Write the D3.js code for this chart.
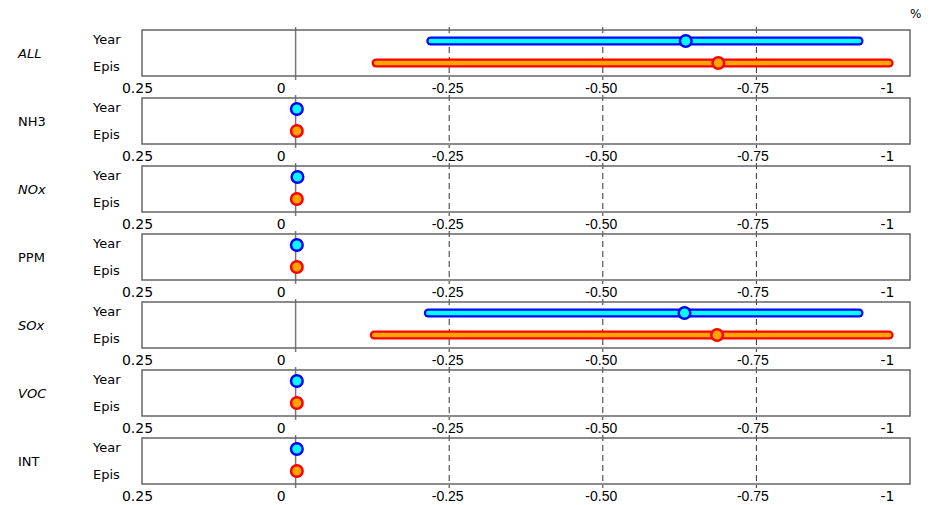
<!DOCTYPE html>
<html>
<head>
<meta charset="utf-8">
<script src="https://cdn.jsdelivr.net/npm/d3@7"></script>
<style>
  body { margin:0; background:#fff; }
  svg { display:block; }
</style>
</head>
<body>
<div id="chart"></div>
<script>
// categories (one panel each) and the two rows inside a panel
const categories = ["ALL", "NH3", "NOx", "PPM", "SOx", "VOC", "INT"];
const rows = ["Year", "Epis"];

// Year series: mean + range (min/max)
const yearMean = [-0.635, -0.002, -0.003, -0.002, -0.633, -0.002, -0.002];
const yearLow  = [-0.220, -0.002, -0.003, -0.002, -0.216, -0.002, -0.002];
const yearHigh = [-0.917, -0.002, -0.003, -0.002, -0.917, -0.002, -0.002];

// Epis series
const episMean = [-0.688, -0.002, -0.002, -0.002, -0.686, -0.002, -0.002];
const episLow  = [-0.131, -0.002, -0.002, -0.002, -0.128, -0.002, -0.002];
const episHigh = [-0.966, -0.002, -0.002, -0.002, -0.966, -0.002, -0.002];

// axis
const tickValues = [0.25, 0, -0.25, -0.5, -0.75, -1];
const tickLabels = ["0.25", "0", "-0.25", "-0.50", "-0.75", "-1"];
const gridValues = [-0.25, -0.5, -0.75];

const width = 933, height = 505;
const panelTop = 30, panelStep = 68, panelH = 46;
const labelFont = "'Comic Sans MS', 'DejaVu Sans', sans-serif";
const tickFont = "'Liberation Sans', Arial, sans-serif";

const colors = {
  Year: { outer: "#0000ff", inner: "#00ffff" },
  Epis: { outer: "#ff0000", inner: "#ffa500" }
};

const svg = d3.select("#chart").append("svg")
  .attr("width", width)
  .attr("height", height);

const x = d3.scaleLinear().domain([0.25, -1]).range([142, 910]);
const yPanel = d3.scaleOrdinal()
  .domain(categories)
  .range(categories.map((d, i) => panelTop + i * panelStep));
const yRow = d3.scalePoint().domain(rows).range([11, 33]);

// shift of each tick label relative to its tick (the original ones are not centred)
const labelShift = [-5, -15, -2, -2, -4, -23];
const comicTicks = new Set(["0.25", "0", "-1"]);

// % unit
svg.append("text")
  .attr("x", 910).attr("y", 18)
  .attr("fill", "#000")
  .style("font-family", labelFont)
  .style("font-size", "12px")
  .text("%");

const data = categories.map((c, i) => ({
  key: c,
  Year: { mean: yearMean[i], low: yearLow[i], high: yearHigh[i] },
  Epis: { mean: episMean[i], low: episLow[i], high: episHigh[i] }
}));

const panels = svg.selectAll(".panel")
  .data(data)
  .enter().append("g")
  .attr("class", "panel")
  .attr("transform", d => `translate(0,${yPanel(d.key)})`);

// category label
panels.append("text")
  .attr("x", 18).attr("y", panelH / 2 + 5)
  .style("font-family", labelFont)
  .style("font-size", "13px")
  .style("font-style", (d, i) => (i === 0 || i === 2 || i === 4 || i === 5) ? "italic" : "normal")
  .text(d => d.key);

// row labels
panels.append("text")
  .attr("x", 93).attr("y", 14)
  .style("font-family", labelFont)
  .style("font-size", "13px")
  .text("Year");
panels.append("text")
  .attr("x", 93).attr("y", 41)
  .style("font-family", labelFont)
  .style("font-size", "13px")
  .text("Epis");

// grid (dashed) lines, pass a little outside the frame
panels.selectAll(".grid")
  .data(gridValues)
  .enter().append("line")
  .attr("class", "grid")
  .attr("x1", d => x(d)).attr("x2", d => x(d))
  .attr("y1", -3).attr("y2", panelH + 4)
  .style("stroke", "#333")
  .style("stroke-width", 1)
  .style("stroke-dasharray", "6,4");

// zero line
panels.append("line")
  .attr("x1", x(0)).attr("x2", x(0))
  .attr("y1", -3).attr("y2", panelH + 4)
  .style("stroke", "#777")
  .style("stroke-width", 1.5);

// frame
panels.append("rect")
  .attr("x", x(0.25)).attr("y", 0)
  .attr("width", x(-1) - x(0.25))
  .attr("height", panelH)
  .style("fill", "none")
  .style("stroke", "#666")
  .style("stroke-width", 1.5);

// range bars + means
rows.forEach(r => {
  const c = colors[r];
  const ranged = panels.filter(d => d[r].low !== d[r].high);
  ranged.append("line")
    .attr("x1", d => x(d[r].low)).attr("x2", d => x(d[r].high))
    .attr("y1", yRow(r)).attr("y2", yRow(r))
    .style("stroke", c.outer)
    .style("stroke-width", 9)
    .style("stroke-linecap", "round");
  ranged.append("line")
    .attr("x1", d => x(d[r].low)).attr("x2", d => x(d[r].high))
    .attr("y1", yRow(r)).attr("y2", yRow(r))
    .style("stroke", c.inner)
    .style("stroke-width", 4.5)
    .style("stroke-linecap", "round");
  panels.append("circle")
    .attr("cx", d => x(d[r].mean))
    .attr("cy", yRow(r))
    .attr("r", 5.8)
    .style("fill", c.inner)
    .style("stroke", c.outer)
    .style("stroke-width", 2.5);
});

// axis labels under each panel
const axis = d3.axisBottom(x)
  .tickValues(tickValues)
  .tickSize(0)
  .tickFormat((d, i) => tickLabels[i]);

panels.append("g")
  .attr("class", "axis-x")
  .attr("transform", `translate(0,${panelH + 4})`)
  .call(axis)
  .call(g => g.select(".domain").remove())
  .call(g => g.selectAll("text")
    .attr("dy", null)
    .attr("y", 13)
    .attr("x", (d, i) => labelShift[i])
    .attr("fill", "#000")
    .style("font-family", (d, i) => comicTicks.has(tickLabels[i]) ? labelFont : tickFont)
    .style("font-size", "14px"));
</script>
</body>
</html>
